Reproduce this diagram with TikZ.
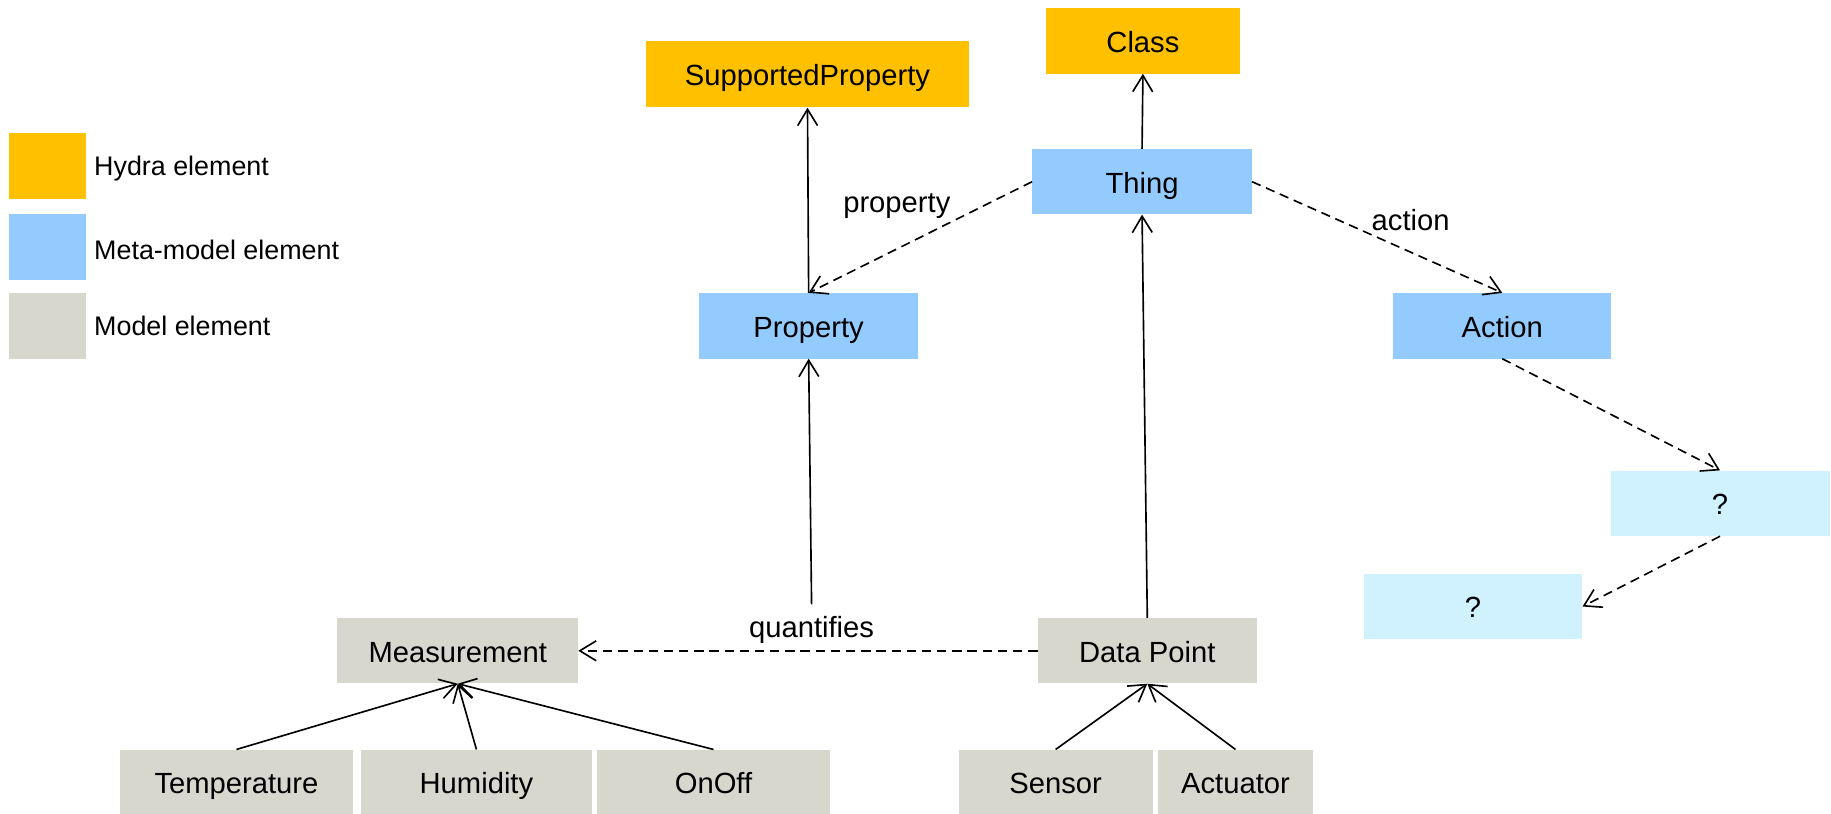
\documentclass[tikz,border=0pt]{standalone}
\usepackage{fontspec}
\setmainfont{Liberation Sans}
\usetikzlibrary{arrows.meta}
\definecolor{hydra}{RGB}{255,192,0}
\definecolor{meta}{RGB}{148,203,255}
\definecolor{model}{RGB}{215,215,206}
\definecolor{unk}{RGB}{208,241,254}
\begin{document}
\begin{tikzpicture}[x=1pt,y=-1pt,
  box/.style={inner sep=0pt, minimum height=56pt, text height=19.6pt, text depth=0pt, font=\fontsize{25}{30}\selectfont},
  hbox/.style={box, fill=hydra},
  mbox/.style={box, fill=meta},
  gbox/.style={box, fill=model},
  ubox/.style={box, fill=unk},
  lbl/.style={inner sep=0pt, text height=19.6pt, text depth=0pt, font=\fontsize{25}{30}\selectfont},
  legtxt/.style={inner sep=0pt, anchor=west, text height=18pt, text depth=0pt, font=\fontsize{23}{27}\selectfont},
  arr/.style={line width=1.4pt, -{Straight Barb[length=14pt,width=17pt,line width=1.4pt]}},
  darr/.style={arr, dash pattern=on 8pt off 5pt}]
\useasboundingbox (0,0) rectangle (1568,697);
% legend
\node[hbox, minimum width=66pt, minimum height=57pt] (lh) at (41,142) {};
\node[mbox, minimum width=66pt, minimum height=57pt] (lm) at (41,211.5) {};
\node[gbox, minimum width=66pt, minimum height=56pt] (lg) at (41,279) {};
\node[legtxt] (lht) at (80.5,141) {Hydra element};
\node[legtxt] (lmt) at (80.5,213) {Meta-model element};
\node[legtxt] (lgt) at (80.5,278.5) {Model element};
% nodes
\node[hbox, minimum width=277pt, minimum height=57pt] (sp) at (691.5,63.5) {SupportedProperty};
\node[hbox, minimum width=166.5pt] (class) at (978.75,35) {Class};
\node[mbox, minimum width=188pt] (thing) at (978,155.6) {Thing};
\node[mbox, minimum width=188pt] (prop) at (692.5,279) {Property};
\node[mbox, minimum width=187pt] (action) at (1286.5,279) {Action};
\node[ubox, minimum width=187.5pt] (q1) at (1473,431) {?};
\node[ubox, minimum width=187pt] (q2) at (1261.5,519.4) {?};
\node[gbox, minimum width=206pt] (meas) at (392,557.3) {Measurement};
\node[gbox, minimum width=187.6pt] (dp) at (982.5,557.3) {Data Point};
\node[gbox, minimum width=199pt] (temp) at (202.5,670) {Temperature};
\node[gbox, minimum width=198pt] (hum) at (408,670) {Humidity};
\node[gbox, minimum width=199.5pt] (onoff) at (611,670) {OnOff};
\node[gbox, minimum width=166pt] (sensor) at (904,670) {Sensor};
\node[gbox, minimum width=132pt] (act) at (1058,670) {Actuator};
% labels
\node[lbl] (lprop) at (768,172.5) {property};
\node[lbl] (lact) at (1208,187.6) {action};
\node[lbl, inner ysep=9pt] (quant) at (695,536.5) {quantifies};
% connectors
\draw[arr] (prop.north) -- (sp.south);
\draw[arr] (thing.north) -- (class.south);
\draw[darr] (thing.west) -- (prop.north);
\draw[darr] (thing.east) -- (action.north);
\draw[darr] (action.south) -- (q1.north);
\draw[darr] (q1.south) -- (q2.east);
\draw[arr] (dp.north) -- (thing.south);
\draw[darr] (dp.west) -- (meas.east);
\draw[arr] (quant.north) -- (prop.south);
\draw[arr] (temp.north) -- (meas.south);
\draw[arr] (hum.north) -- (meas.south);
\draw[arr] (onoff.north) -- (meas.south);
\draw[arr] (sensor.north) -- (dp.south);
\draw[arr] (act.north) -- (dp.south);
\end{tikzpicture}
\end{document}
